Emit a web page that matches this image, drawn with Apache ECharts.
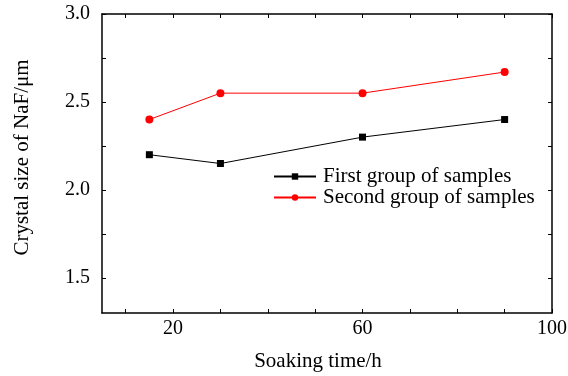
<!DOCTYPE html>
<html>
<head>
<meta charset="utf-8">
<script src="https://cdn.jsdelivr.net/npm/echarts@6/dist/echarts.min.js"></script>
<style>
  html, body { margin: 0; padding: 0; background: #fff; }
  #chart { width: 568px; height: 376px; }
</style>
</head>
<body>
<div id="chart"></div>
<script>
// soaking time (h)
const soakTimes = [15, 30, 60, 90];
// crystal size of NaF (μm)
const firstGroup = [2.2, 2.15, 2.3, 2.4];
const secondGroup = [2.4, 2.55, 2.55, 2.67];

const xLabelValues = [20, 60, 100];
const xTickValues = [10, 20, 30, 40, 50, 60, 70, 80, 90, 100];
const yLabelValues = [1.5, 2.0, 2.5, 3.0];
const yTickValues = [1.5, 1.75, 2.0, 2.25, 2.5, 2.75, 3.0];

const font = "'Liberation Serif', 'Times New Roman', serif";

const chart = echarts.init(document.getElementById('chart'));

const axisLine = { show: true, onZero: false, lineStyle: { color: '#000', width: 1.5 } };

const option = {
    backgroundColor: '#fff',
    animation: false,
    textStyle: { fontFamily: font, color: '#000' },
    grid: { left: 102, right: 16, top: 14, bottom: 63, outerBoundsMode: 'none', containLabel: false },
    legend: {
        left: 273,
        top: 166,
        padding: 0,
        orient: 'vertical',
        itemWidth: 42,
        itemHeight: 8,
        itemGap: 0,
        textStyle: { fontFamily: font, fontSize: 21, lineHeight: 18, color: '#000', padding: [0, 0, 0, 2] },
        data: ['First group of samples', 'Second group of samples']
    },
    xAxis: [{
        type: 'value',
        min: 5,
        max: 100,
        name: 'Soaking time/h',
        nameLocation: 'middle',
        nameGap: 38,
        nameTextStyle: { fontFamily: font, fontSize: 21, color: '#000', padding: [0, 18, 0, 0] },
        axisLine,
        axisTick: { show: true, inside: true, length: 4, customValues: xTickValues, lineStyle: { color: '#000' } },
        axisLabel: { customValues: xLabelValues, fontFamily: font, fontSize: 20, color: '#000', margin: 6 },
        splitLine: { show: false }
    }, {
        type: 'value',
        position: 'top',
        min: 5,
        max: 100,
        axisLine,
        axisTick: { show: true, inside: true, length: 4, customValues: xTickValues, lineStyle: { color: '#000' } },
        axisLabel: { show: false },
        splitLine: { show: false }
    }],
    yAxis: [{
        type: 'value',
        min: 1.3,
        max: 3.0,
        name: 'Crystal size of NaF/μm',
        nameLocation: 'middle',
        nameGap: 69,
        nameTextStyle: { fontFamily: font, fontSize: 21, color: '#000', padding: [0, 0, 0, 12] },
        axisLine,
        axisTick: { show: true, inside: true, length: 4, customValues: yTickValues, lineStyle: { color: '#000' } },
        axisLabel: {
            customValues: yLabelValues,
            fontFamily: font, fontSize: 20, color: '#000', margin: 12,
            formatter: v => v.toFixed(1)
        },
        splitLine: { show: false }
    }, {
        type: 'value',
        position: 'right',
        min: 1.3,
        max: 3.0,
        axisLine,
        axisTick: { show: true, inside: true, length: 4, customValues: yTickValues, lineStyle: { color: '#000' } },
        axisLabel: { show: false },
        splitLine: { show: false }
    }],
    series: [{
        name: 'First group of samples',
        type: 'line',
        data: soakTimes.map((t, i) => [t, firstGroup[i]]),
        symbol: 'rect',
        symbolSize: 7,
        lineStyle: { color: '#000', width: 1 },
        itemStyle: { color: '#000' }
    }, {
        name: 'Second group of samples',
        type: 'line',
        data: soakTimes.map((t, i) => [t, secondGroup[i]]),
        symbol: 'circle',
        symbolSize: 8,
        lineStyle: { color: '#ff0000', width: 1 },
        itemStyle: { color: '#ff0000' }
    }]
};

chart.setOption(option);
</script>
</body>
</html>
